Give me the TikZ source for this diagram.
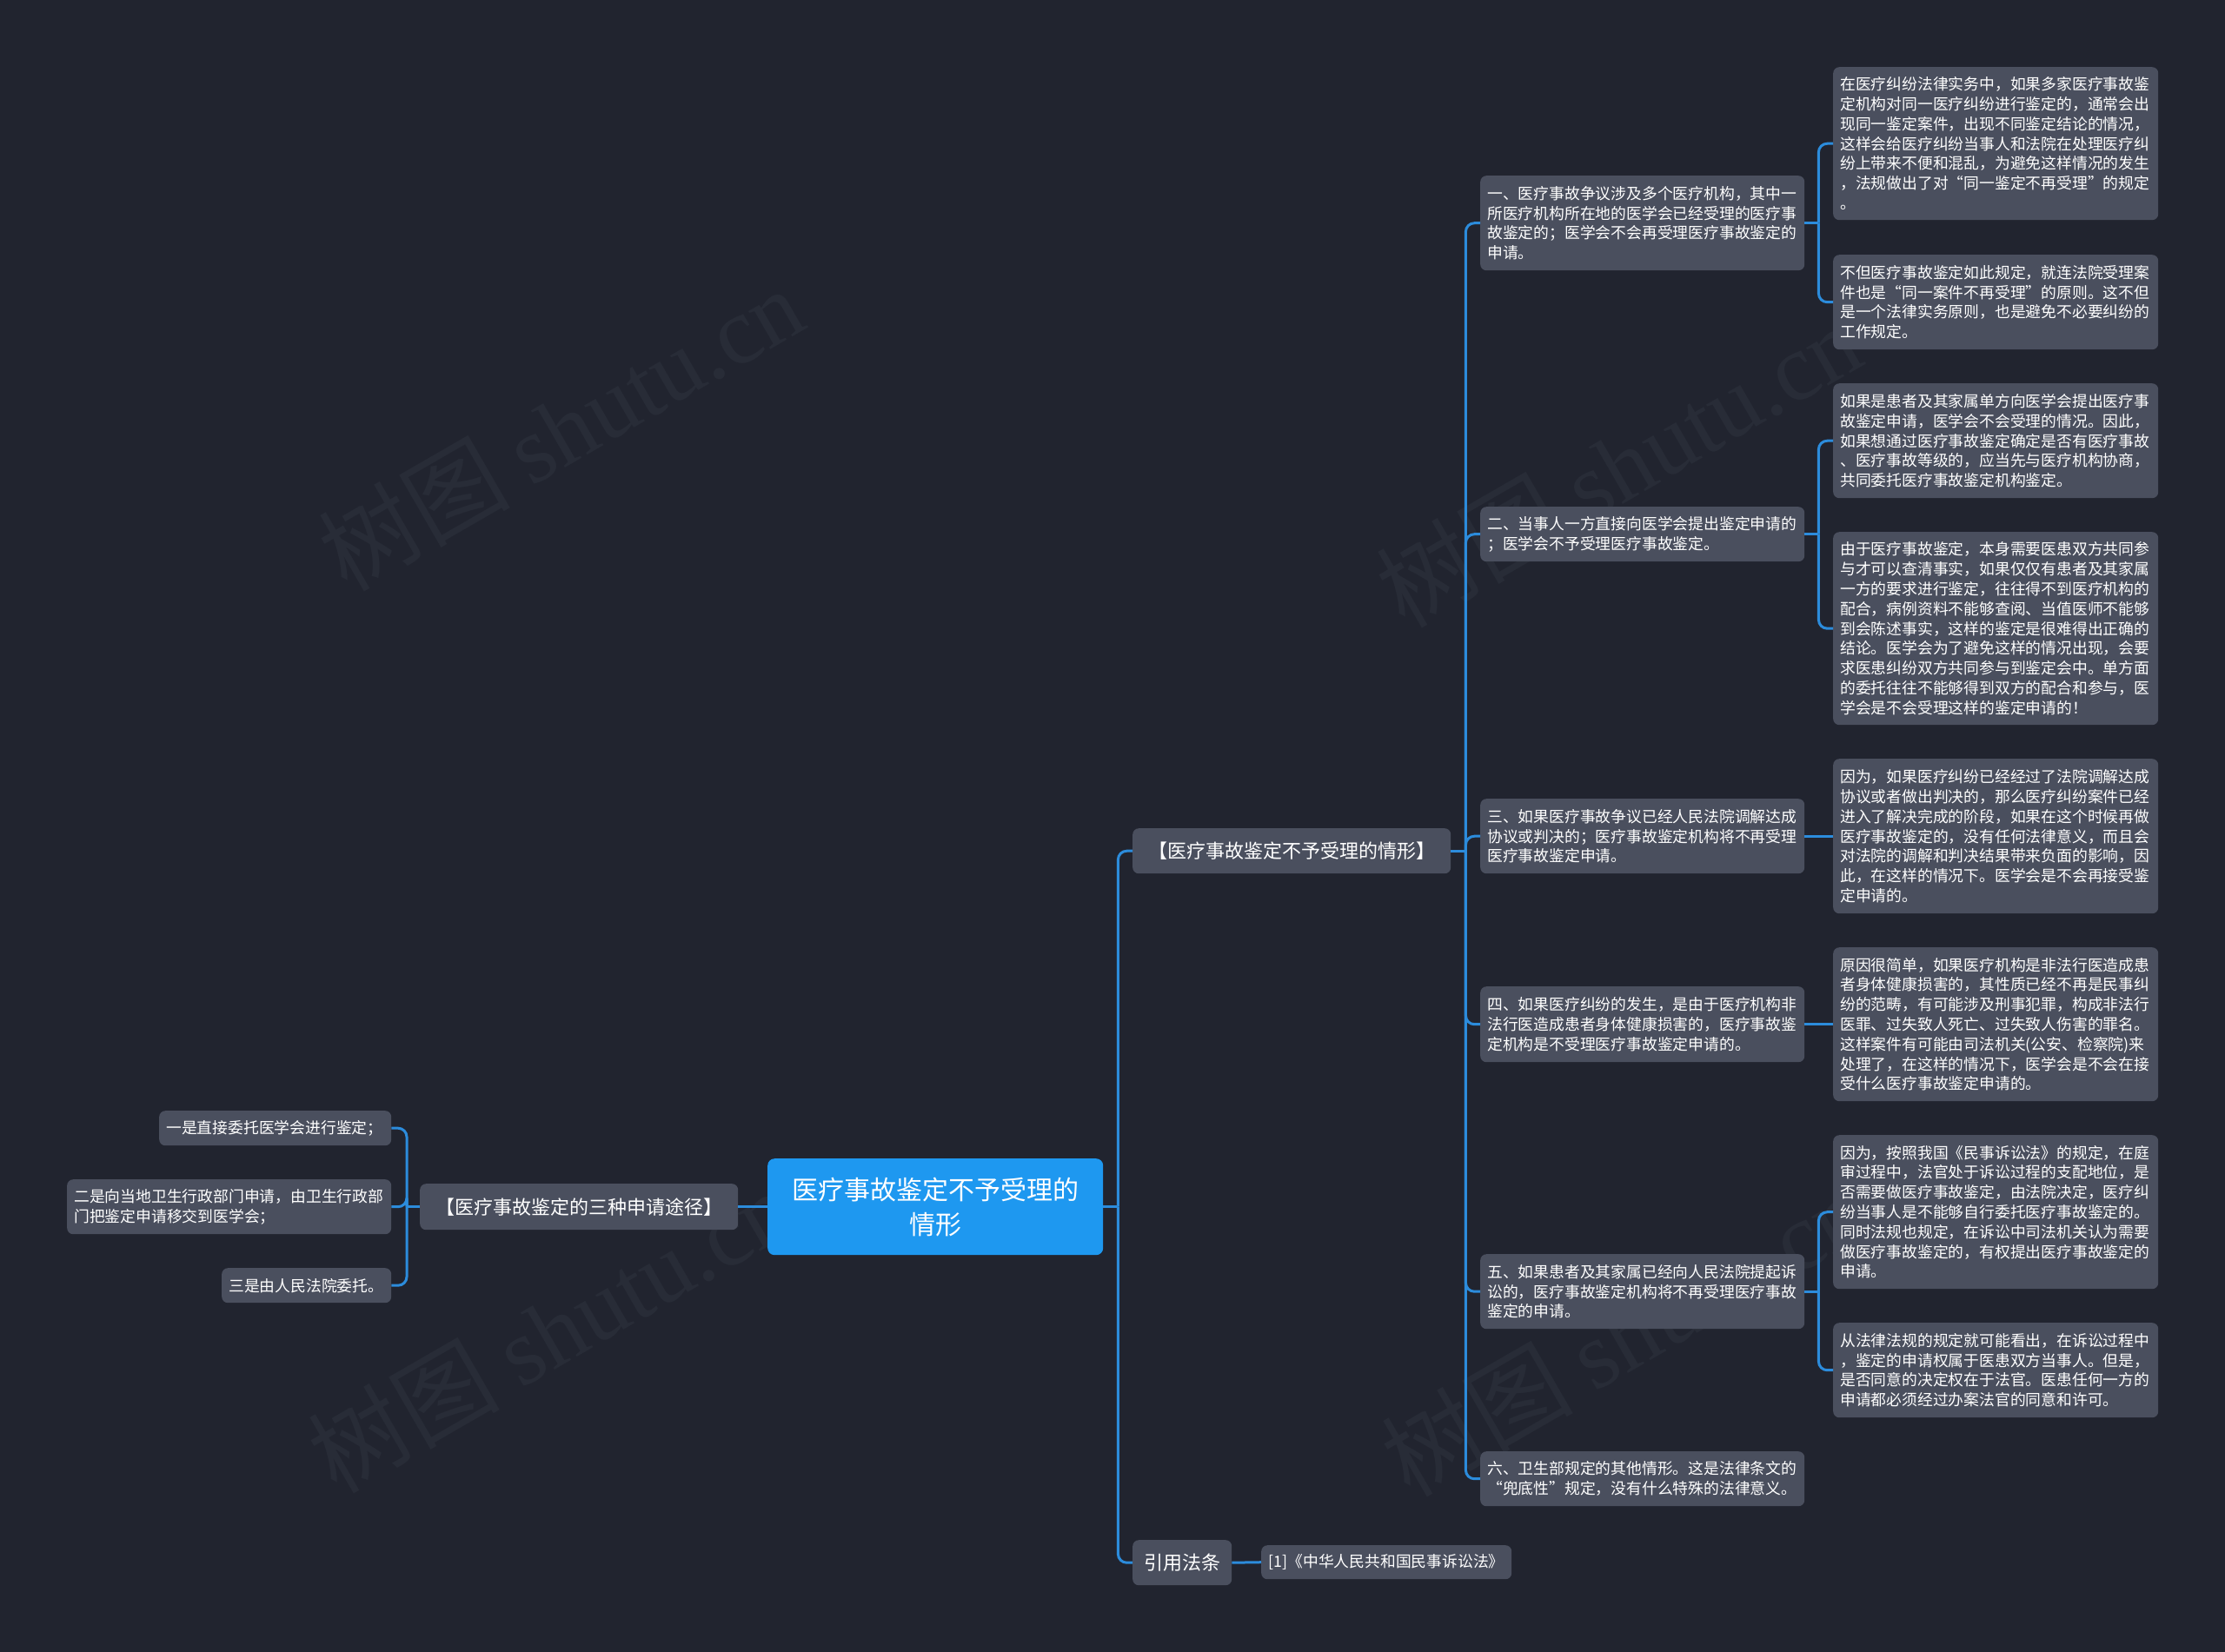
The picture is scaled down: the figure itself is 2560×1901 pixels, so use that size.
\documentclass[tikz,border=0pt]{standalone}
\usepackage{fontspec}
\setmainfont{Noto Sans CJK SC}
\newfontfamily\wmfont{Liberation Serif}
\usetikzlibrary{calc}
\definecolor{bgc}{HTML}{21242F}
\definecolor{nodegray}{HTML}{4A4F5E}
\definecolor{rootblue}{HTML}{1E98F0}
\definecolor{connc}{HTML}{2C8CDC}
\definecolor{wmc}{HTML}{282C37}
\newcommand\qL{{\addfontfeature{RawFeature=+fwid}“}}
\newcommand\qR{{\addfontfeature{RawFeature=+fwid}”}}
\tikzset{
  box/.style={fill=nodegray, rounded corners=7pt, text=white, align=left,
    font=\fontsize{17.8}{22.8}\selectfont, inner xsep=8pt, inner ysep=3pt, anchor=north west},
  bigbox/.style={fill=nodegray, rounded corners=7pt, text=white, align=center,
    font=\fontsize{22}{28}\selectfont, inner xsep=8pt, inner ysep=3pt, anchor=north west},
  rootbox/.style={fill=rootblue, rounded corners=8pt, text=white, align=center,
    font=\fontsize{30}{40}\selectfont, inner xsep=8pt, inner ysep=3pt, anchor=north west},
  conn/.style={draw=connc, line width=3pt, rounded corners=10pt},
  wm/.style={text=wmc, rotate=30, font=\fontsize{110}{110}\selectfont, inner sep=0pt}
}
\begin{document}
\begin{tikzpicture}[x=1pt,y=-1pt]
\useasboundingbox (0,0) rectangle (2560,1901);
\fill[bgc] (0,0) rectangle (2560,1901);
% watermarks
\node[wm] (wm1) at (645,493) {树图 {\wmfont shutu.cn}};
\node[wm] (wm2) at (1862,535) {树图 {\wmfont shutu.cn}};
\node[wm] (wm3) at (633,1531) {树图 {\wmfont shutu.cn}};
\node[wm] (wm4) at (1868,1535) {树图 {\wmfont shutu.cn}};

% root
\node[rootbox, text width=370pt, minimum height=111pt] (root) at (883,1333) {医疗事故鉴定不予受理的\\情形};

% main branches
\node[bigbox, text width=350pt, minimum height=52pt] (b1) at (1303,953) {【医疗事故鉴定不予受理的情形】};
\node[bigbox, text width=98pt, minimum height=52pt] (b2) at (1303,1772) {引用法条};
\node[box, text width=272pt, minimum height=39pt, align=center] (cite) at (1451,1778) {[1]《中华人民共和国民事诉讼法》};
\node[bigbox, text width=350pt, minimum height=53pt] (b3) at (483,1362) {【医疗事故鉴定的三种申请途径】};

% left children
\node[box, text width=251pt, minimum height=40pt] (l1) at (183,1278) {一是直接委托医学会进行鉴定；};
\node[box, text width=357pt, minimum height=63pt] (l2) at (77,1357) {二是向当地卫生行政部门申请，由卫生行政部\\门把鉴定申请移交到医学会；};
\node[box, text width=179pt, minimum height=40pt] (l3) at (255,1459) {三是由人民法院委托。};

% middle column
\node[box, text width=357pt, minimum height=109pt] (m1) at (1703,202) {一、医疗事故争议涉及多个医疗机构，其中一\\所医疗机构所在地的医学会已经受理的医疗事\\故鉴定的；医学会不会再受理医疗事故鉴定的\\申请。};
\node[box, text width=357pt, minimum height=63pt] (m2) at (1703,583) {二、当事人一方直接向医学会提出鉴定申请的\\；医学会不予受理医疗事故鉴定。};
\node[box, text width=357pt, minimum height=86pt] (m3) at (1703,919) {三、如果医疗事故争议已经人民法院调解达成\\协议或判决的；医疗事故鉴定机构将不再受理\\医疗事故鉴定申请。};
\node[box, text width=357pt, minimum height=87pt] (m4) at (1703,1135) {四、如果医疗纠纷的发生，是由于医疗机构非\\法行医造成患者身体健康损害的，医疗事故鉴\\定机构是不受理医疗事故鉴定申请的。};
\node[box, text width=357pt, minimum height=86pt] (m5) at (1703,1443) {五、如果患者及其家属已经向人民法院提起诉\\讼的，医疗事故鉴定机构将不再受理医疗事故\\鉴定的申请。};
\node[box, text width=357pt, minimum height=63pt] (m6) at (1703,1670) {六、卫生部规定的其他情形。这是法律条文的\\\qL 兜底性\qR 规定，没有什么特殊的法律意义。};

% right column
\node[box, text width=358pt, minimum height=176pt] (r1a) at (2109,77) {在医疗纠纷法律实务中，如果多家医疗事故鉴\\定机构对同一医疗纠纷进行鉴定的，通常会出\\现同一鉴定案件，出现不同鉴定结论的情况，\\这样会给医疗纠纷当事人和法院在处理医疗纠\\纷上带来不便和混乱，为避免这样情况的发生\\，法规做出了对\qL 同一鉴定不再受理\qR 的规定\\。};
\node[box, text width=358pt, minimum height=109pt] (r1b) at (2109,293) {不但医疗事故鉴定如此规定，就连法院受理案\\件也是\qL 同一案件不再受理\qR 的原则。这不但\\是一个法律实务原则，也是避免不必要纠纷的\\工作规定。};
\node[box, text width=358pt, minimum height=132pt] (r2a) at (2109,441) {如果是患者及其家属单方向医学会提出医疗事\\故鉴定申请，医学会不会受理的情况。因此，\\如果想通过医疗事故鉴定确定是否有医疗事故\\、医疗事故等级的，应当先与医疗机构协商，\\共同委托医疗事故鉴定机构鉴定。};
\node[box, text width=358pt, minimum height=222pt] (r2b) at (2109,612) {由于医疗事故鉴定，本身需要医患双方共同参\\与才可以查清事实，如果仅仅有患者及其家属\\一方的要求进行鉴定，往往得不到医疗机构的\\配合，病例资料不能够查阅、当值医师不能够\\到会陈述事实，这样的鉴定是很难得出正确的\\结论。医学会为了避免这样的情况出现，会要\\求医患纠纷双方共同参与到鉴定会中。单方面\\的委托往往不能够得到双方的配合和参与，医\\学会是不会受理这样的鉴定申请的！};
\node[box, text width=358pt, minimum height=178pt] (r3a) at (2109,873) {因为，如果医疗纠纷已经经过了法院调解达成\\协议或者做出判决的，那么医疗纠纷案件已经\\进入了解决完成的阶段，如果在这个时候再做\\医疗事故鉴定的，没有任何法律意义，而且会\\对法院的调解和判决结果带来负面的影响，因\\此，在这样的情况下。医学会是不会再接受鉴\\定申请的。};
\node[box, text width=358pt, minimum height=177pt] (r4a) at (2109,1090) {原因很简单，如果医疗机构是非法行医造成患\\者身体健康损害的，其性质已经不再是民事纠\\纷的范畴，有可能涉及刑事犯罪，构成非法行\\医罪、过失致人死亡、过失致人伤害的罪名。\\这样案件有可能由司法机关(公安、检察院)来\\处理了，在这样的情况下，医学会是不会在接\\受什么医疗事故鉴定申请的。};
\node[box, text width=358pt, minimum height=177pt] (r5a) at (2109,1306) {因为，按照我国《民事诉讼法》的规定，在庭\\审过程中，法官处于诉讼过程的支配地位，是\\否需要做医疗事故鉴定，由法院决定，医疗纠\\纷当事人是不能够自行委托医疗事故鉴定的。\\同时法规也规定，在诉讼中司法机关认为需要\\做医疗事故鉴定的，有权提出医疗事故鉴定的\\申请。};
\node[box, text width=358pt, minimum height=109pt] (r5b) at (2109,1522) {从法律法规的规定就可能看出，在诉讼过程中\\，鉴定的申请权属于医患双方当事人。但是，\\是否同意的决定权在于法官。医患任何一方的\\申请都必须经过办案法官的同意和许可。};

% spine coordinates
\coordinate (sR) at ($(root.east)+(17,0)$);
\coordinate (sB1) at ($(b1.east)+(17,0)$);
\coordinate (sL) at ($(b3.west)+(-15,0)$);
\coordinate (sM1) at ($(m1.east)+(16,0)$);
\coordinate (sM2) at ($(m2.east)+(16,0)$);
\coordinate (sM5) at ($(m5.east)+(16,0)$);

% connectors root
\draw[conn] (root.east) -- (sR);
\draw[conn] (sR) |- (b1.west);
\draw[conn] (sR) |- (b2.west);
\draw[conn] (root.west) -- (b3.east);
\draw[conn] (b2.east) -- (cite.west);
% left
\draw[conn] (b3.west) -- (sL);
\draw[conn] (sL) |- (l1.east);
\draw[conn] (sL) |- (l2.east);
\draw[conn] (sL) |- (l3.east);
% b1 to middle
\draw[conn] (b1.east) -- (sB1);
\foreach \m in {m1,m2,m3,m4,m5,m6} { \draw[conn] (sB1) |- (\m.west); }
% middle to right
\draw[conn] (m1.east) -- (sM1);
\draw[conn] (sM1) |- (r1a.west);
\draw[conn] (sM1) |- (r1b.west);
\draw[conn] (m2.east) -- (sM2);
\draw[conn] (sM2) |- (r2a.west);
\draw[conn] (sM2) |- (r2b.west);
\draw[conn] (m3.east) -- (r3a.west);
\draw[conn] (m4.east) -- (r4a.west);
\draw[conn] (m5.east) -- (sM5);
\draw[conn] (sM5) |- (r5a.west);
\draw[conn] (sM5) |- (r5b.west);
\end{tikzpicture}
\end{document}
